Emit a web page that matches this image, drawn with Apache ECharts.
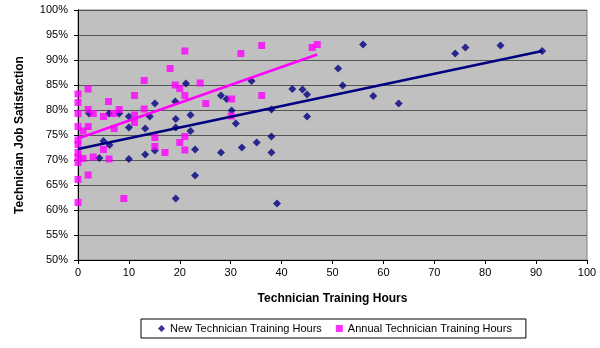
<!DOCTYPE html>
<html>
<head>
<meta charset="utf-8">
<script src="https://cdn.jsdelivr.net/npm/echarts@6/dist/echarts.min.js"></script>
<style>
  html, body { margin: 0; padding: 0; background: #ffffff; }
  #chart { width: 600px; height: 348px; }
</style>
</head>
<body>
<div id="chart"></div>
<script>
// Training hours vs. job satisfaction (%), one point per technician
const newTechPoints = [
  [2.2, 79.3], [6.1, 79.3], [8.1, 79.3], [5.0, 73.8], [6.2, 73.0], [4.2, 70.4],
  [10.0, 70.2], [10.0, 76.5], [10.0, 78.7], [14.1, 78.7], [15.1, 81.3], [13.2, 76.3],
  [19.1, 81.7], [21.2, 85.3], [19.2, 78.2], [19.2, 76.5], [22.1, 79.0], [22.1, 75.8],
  [13.2, 71.1], [15.1, 71.9], [23.0, 72.1], [23.0, 66.9], [19.2, 62.3], [34.1, 85.8],
  [28.1, 82.9], [29.2, 82.2], [30.2, 79.9], [31.0, 77.3], [28.1, 71.5], [32.2, 72.5],
  [35.1, 73.5], [38.0, 74.7], [38.0, 71.5], [38.0, 80.1], [39.1, 61.3], [42.1, 84.2],
  [44.1, 84.1], [45.0, 83.1], [45.0, 78.7], [51.1, 88.3], [52.0, 84.9], [56.0, 93.1],
  [58.0, 82.8], [63.0, 81.3], [74.1, 91.3], [76.1, 92.5], [83.0, 92.9], [91.2, 91.8]
];

const annualTechPoints = [
  [2.0, 84.2], [0, 83.2], [0, 81.5], [6.0, 81.7], [2.0, 80.1], [0, 79.3], [3.0, 79.3],
  [5.0, 78.7], [7.0, 79.3], [8.1, 80.1], [0, 76.7], [2.0, 76.7], [1.0, 75.8], [7.1, 76.3],
  [0, 74.0], [0, 73.1], [0, 71.5], [5.0, 72.1], [0, 70.5], [1.0, 70.3], [3.0, 70.6],
  [6.1, 70.2], [0, 69.5], [2.0, 67.0], [0, 66.1], [0, 61.5], [9.0, 62.3],
  [21.0, 91.8], [18.1, 88.3], [13.0, 85.9], [19.1, 85.0], [20.0, 84.3], [24.0, 85.4],
  [21.0, 82.9], [11.1, 82.9], [13.0, 80.2], [11.1, 79.0], [11.1, 77.5], [15.1, 74.5],
  [21.0, 74.7], [20.0, 73.5], [15.1, 72.7], [21.0, 72.0], [17.1, 71.5],
  [25.1, 81.3], [32.0, 91.3], [36.1, 92.9], [30.2, 82.2], [30.1, 78.8], [36.1, 82.9],
  [46.0, 92.5], [47.0, 93.1]
];

// Linear trend lines (start and end points)
const newTechTrend = [[0, 72.2], [91.2, 91.8]];
const annualTechTrend = [[0, 74.3], [47.0, 91.1]];

const seriesNames = ['New Technician Training Hours', 'Annual Technician Training Hours'];
const xTitle = 'Technician Training Hours';
const yTitle = 'Technician Job Satisfaction';

const NAVY = '#000080';
const MAGENTA = '#FF00FF';
const FONT = '"Liberation Sans", Arial, sans-serif';

const chart = echarts.init(document.getElementById('chart'), null, { renderer: 'canvas' });

chart.setOption({
  backgroundColor: '#ffffff',
  animation: false,
  textStyle: { fontFamily: FONT, color: '#000' },
  grid: {
    left: 78, right: 13, top: 10, bottom: 88,
    show: true,
    backgroundColor: '#C0C0C0',
    borderColor: '#808080',
    borderWidth: 1
  },
  legend: {
    data: [
      { name: seriesNames[0], icon: 'diamond' },
      { name: seriesNames[1], icon: 'rect' }
    ],
    left: 141,
    top: 319,
    itemWidth: 7,
    itemHeight: 7,
    itemGap: 14,
    padding: [4, 14, 4, 17],
    borderColor: '#000',
    borderWidth: 1,
    backgroundColor: '#fff',
    textStyle: { fontFamily: FONT, fontSize: 11, color: '#000' }
  },
  xAxis: {
    type: 'value',
    min: 0, max: 100, interval: 10,
    name: xTitle,
    nameLocation: 'middle',
    nameGap: 33,
    nameTextStyle: { fontFamily: FONT, fontSize: 12, fontWeight: 'bold', color: '#000' },
    axisLine: { show: true, onZero: false, lineStyle: { color: '#000', width: 1 } },
    axisTick: { show: true, length: 4, inside: false, lineStyle: { color: '#000' } },
    axisLabel: { margin: 7, fontFamily: FONT, fontSize: 11, color: '#000' },
    splitLine: { show: false }
  },
  yAxis: {
    type: 'value',
    min: 50, max: 100, interval: 5,
    name: yTitle,
    nameLocation: 'middle',
    nameGap: 52,
    nameTextStyle: { fontFamily: FONT, fontSize: 12, fontWeight: 'bold', color: '#000' },
    axisLine: { show: true, onZero: false, lineStyle: { color: '#000', width: 1 } },
    axisTick: { show: true, length: 4, inside: false, lineStyle: { color: '#000' } },
    axisLabel: { margin: 10, fontFamily: FONT, fontSize: 11, color: '#000', formatter: '{value}%' },
    splitLine: { show: true, lineStyle: { color: '#555555', width: 1 } }
  },
  series: [
    {
      name: seriesNames[0],
      type: 'scatter',
      symbol: 'diamond',
      symbolSize: 8,
      itemStyle: { color: NAVY },
      data: newTechPoints,
      z: 2
    },
    {
      name: seriesNames[1],
      type: 'scatter',
      symbol: 'rect',
      symbolSize: 7,
      itemStyle: { color: MAGENTA },
      data: annualTechPoints,
      z: 3
    },
    {
      name: 'newTrend',
      type: 'line',
      data: newTechTrend,
      showSymbol: false,
      symbol: 'none',
      lineStyle: { color: NAVY, width: 2.5 },
      silent: true,
      z: 4
    },
    {
      name: 'annualTrend',
      type: 'line',
      data: annualTechTrend,
      showSymbol: false,
      symbol: 'none',
      lineStyle: { color: MAGENTA, width: 2.5 },
      silent: true,
      z: 4
    }
  ]
});
</script>
</body>
</html>
